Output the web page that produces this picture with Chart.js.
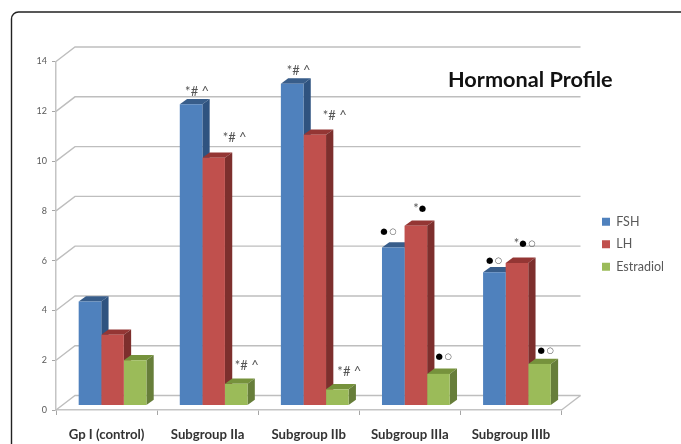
<!DOCTYPE html>
<html>
<head>
<meta charset="utf-8">
<title>Hormonal Profile</title>
<script src="https://cdn.jsdelivr.net/npm/chart.js@4/dist/chart.umd.js"></script>
<style>
  html, body { margin: 0; padding: 0; background: #fff; overflow: hidden; }
  canvas { display: block; }
</style>
</head>
<body>
<canvas id="myChart" width="681" height="444"></canvas>
<script>
var categories = ['Gp I (control)', 'Subgroup IIa', 'Subgroup IIb', 'Subgroup IIIa', 'Subgroup IIIb'];
var tickValues = [0, 2, 4, 6, 8, 10, 12, 14];

var fsh = [4.18, 12.1, 12.93, 6.35, 5.35];
var lh = [2.84, 9.95, 10.88, 7.22, 5.73];
var estradiol = [1.82, 0.87, 0.65, 1.27, 1.67];

/* significance marks above the bars */
var fshNotes = ['', '*# ^', '*# ^', '●○', '●○'];
var lhNotes = ['', '*# ^', '*# ^', '*●', '*●○'];
var estradiolNotes = ['', '*# ^', '*# ^', '●○', '●○'];

/* where each mark sits, relative to the top centre of its bar */
var fshNoteOffsets = [[0, 0], [6, -13], [6.5, -13], [-4, -16], [0.5, -12]];
var lhNoteOffsets = [[0, 0], [21, -20], [20, -19], [4.5, -17], [8.5, -19]];
var estradiolNoteOffsets = [[0, 0], [10.5, -18], [12, -18], [6, -17], [7, -13]];

var notes = [fshNotes, lhNotes, estradiolNotes];
var noteOffsets = [fshNoteOffsets, lhNoteOffsets, estradiolNoteOffsets];

/* bar faces: front, top, side */
var faces = [
    ['#4F81BD', '#385D8A', '#2F5380'],
    ['#C0504D', '#943634', '#7D2F2D'],
    ['#9BBB59', '#76923C', '#677E3A']
];

var wallX = 19, wallY = -14.5;   // back wall offset
var barX = 6, barY = -4.5;       // bars stand in the middle of the floor
var depthX = 7.3, depthY = -5.3; // bar depth

var frame = {
    id: 'frame',
    beforeDraw: function (chart) {
        var c = chart.ctx;
        c.save();
        c.strokeStyle = '#222';
        c.lineWidth = 1.4;
        c.beginPath();
        c.roundRect(11.5, 12, 800, 600, 7);
        c.stroke();
        c.restore();
    }
};

var place = {
    id: 'place',
    afterLayout: function (chart) {
        var l = chart.legend;
        l.left = 592;
        l.top = 205.5;
        l.right = 681;
        l.bottom = 300;
        chart.titleBlock.left = 448;
        chart.titleBlock.right = 680;
        chart.titleBlock.top = 67;
    }
};

var walls = {
    id: 'walls',
    beforeDatasetsDraw: function (chart) {
        var c = chart.ctx, a = chart.chartArea, y = chart.scales.y;
        c.save();
        c.strokeStyle = '#BEBEBE';
        c.lineWidth = 1.4;
        tickValues.forEach(function (v) {
            var py = y.getPixelForValue(v);
            c.beginPath();
            c.moveTo(a.left, py);
            c.lineTo(a.left + wallX, py + wallY);
            c.lineTo(a.right + wallX, py + wallY);
            c.stroke();
        });
        c.beginPath();
        c.moveTo(a.right, a.bottom);
        c.lineTo(a.right + wallX, a.bottom + wallY);
        c.stroke();
        c.restore();

        c.save();
        c.translate(barX, barY);
        /* tops and sides first, the library then paints the fronts over them */
        faces.forEach(function (f, i) {
            chart.getDatasetMeta(i).data.forEach(function (bar) {
                var l = bar.x - bar.width / 2, r = bar.x + bar.width / 2;
                c.fillStyle = f[1];
                c.beginPath();
                c.moveTo(l, bar.y);
                c.lineTo(l + depthX, bar.y + depthY);
                c.lineTo(r + depthX, bar.y + depthY);
                c.lineTo(r, bar.y);
                c.closePath();
                c.fill();
                c.fillStyle = f[2];
                c.beginPath();
                c.moveTo(r, bar.y);
                c.lineTo(r + depthX, bar.y + depthY);
                c.lineTo(r + depthX, bar.base + depthY);
                c.lineTo(r, bar.base);
                c.closePath();
                c.fill();
            });
        });
    },
    afterDatasetsDraw: function (chart) {
        var c = chart.ctx;
        notes.forEach(function (list, i) {
            var meta = chart.getDatasetMeta(i);
            list.forEach(function (text, j) {
                if (!text) return;
                drawNote(c, text, meta.data[j].x + noteOffsets[i][j][0], meta.data[j].y + noteOffsets[i][j][1]);
            });
        });
        c.restore();
    }
};

function isDot(ch) {
    return ch === '●' || ch === '○';
}

function noteFont(ch) {
    return isDot(ch) ? '8.5px "DejaVu Sans"' : '13px Lato';
}

function noteStep(c, ch) {
    c.font = noteFont(ch);
    return c.measureText(ch).width + (isDot(ch) ? 1.5 : 0);
}

function drawNote(c, text, cx, cy) {
    var chars = Array.from(text), total = 0;
    chars.forEach(function (ch) {
        total += noteStep(c, ch);
    });
    var x = cx - total / 2;
    c.textAlign = 'left';
    c.textBaseline = 'middle';
    chars.forEach(function (ch) {
        var step = noteStep(c, ch);
        c.fillStyle = ch === '●' ? '#000' : '#555';
        c.fillText(ch, x, cy);
        x += step;
    });
}

var ctx = document.getElementById('myChart').getContext('2d');
var myChart = new Chart(ctx, {
    type: 'bar',
    plugins: [frame, place, walls],
    data: {
        labels: categories,
        datasets: [
            { label: 'FSH', data: fsh, backgroundColor: faces[0][0] },
            { label: 'LH', data: lh, backgroundColor: faces[1][0] },
            { label: 'Estradiol', data: estradiol, backgroundColor: faces[2][0] }
        ]
    },
    options: {
        responsive: false,
        animation: false,
        clip: false,
        categoryPercentage: 0.67,
        barPercentage: 1,
        layout: {
            autoPadding: false,
            padding: { left: 0, top: 35.5, right: 119.5, bottom: 0 }
        },
        plugins: {
            tooltip: { enabled: false },
            title: {
                display: true,
                text: 'Hormonal Profile',
                align: 'start',
                color: '#111',
                padding: 0,
                font: { family: 'Lato', size: 21.7, weight: 'bold' }
            },
            legend: {
                position: 'chartArea',
                align: 'start',
                labels: {
                    boxWidth: 8,
                    boxHeight: 8,
                    padding: 10,
                    color: '#595959',
                    font: { family: 'Lato', size: 12.5 }
                }
            }
        },
        scales: {
            x: {
                afterFit: function (s) { s.height = 34; },
                border: { color: '#C4C4C4', width: 1.5 },
                grid: { drawOnChartArea: false, color: '#A6A6A6', tickLength: 5 },
                ticks: {
                    autoSkip: false,
                    maxRotation: 0,
                    padding: 12,
                    color: '#333',
                    font: { family: 'Lato', size: 13.2, weight: 'bold' }
                }
            },
            y: {
                min: 0,
                max: 14,
                afterFit: function (s) { s.width = 56; },
                afterBuildTicks: function (s) {
                    s.ticks = tickValues.map(function (v) { return { value: v }; });
                },
                border: { color: '#C4C4C4', width: 1.5 },
                grid: { drawOnChartArea: false, color: '#A6A6A6', tickLength: 4 },
                ticks: {
                    padding: 5,
                    color: '#595959',
                    font: { family: 'Lato', size: 9 }
                }
            }
        }
    }
});
</script>
</body>
</html>
